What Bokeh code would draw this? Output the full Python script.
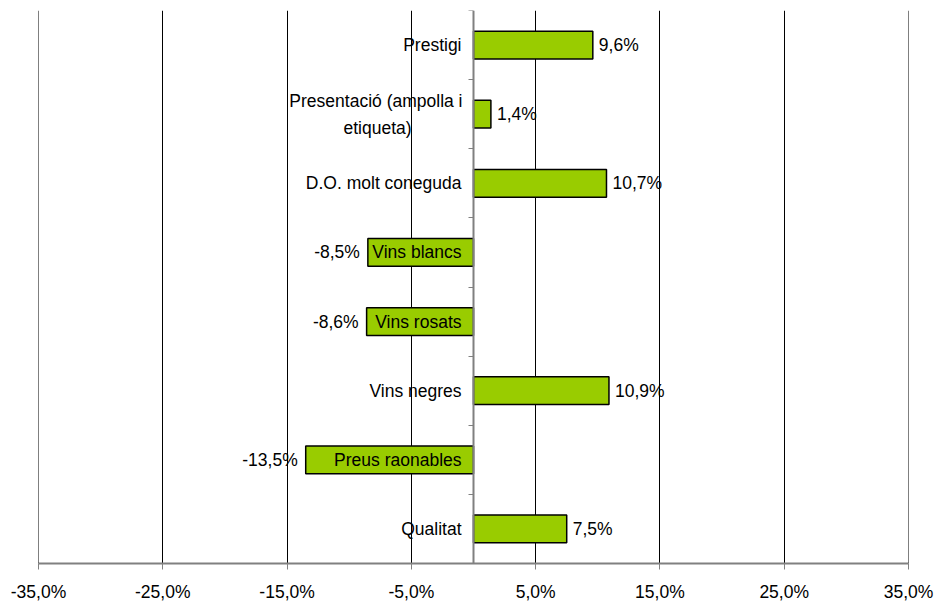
from bokeh.plotting import figure
from bokeh.models import (ColumnDataSource, Range1d, FixedTicker, LinearAxis, Span)
from bokeh.core.properties import value
from bokeh.embed import file_html
from bokeh.resources import INLINE

# Data: change in share (%) by attribute, top to bottom
categories = [
    "Prestigi",
    "Presentació (ampolla i\netiqueta)",
    "D.O. molt coneguda",
    "Vins blancs",
    "Vins rosats",
    "Vins negres",
    "Preus raonables",
    "Qualitat",
]
values = [9.6, 1.4, 10.7, -8.5, -8.6, 10.9, -13.5, 7.5]
x_ticks = [-35, -25, -15, -5, 5, 15, 25, 35]

FONT = "Liberation Sans"
FS = "17.5px"
n = len(categories)

# y position of each band centre, first category on top
ys = [n - i - 0.5 for i in range(n)]

p = figure(width=941, height=604, output_backend="svg", toolbar_location=None,
           x_range=Range1d(-35, 35), y_range=Range1d(0, n),
           min_border_left=38, min_border_right=33, min_border_top=10,
           min_border_bottom=38)
p.outline_line_color = None
p.background_fill_color = "white"
p.border_fill_color = "white"

# bottom value axis
xa = p.xaxis[0]
xa.ticker = FixedTicker(ticks=x_ticks)
xa.major_label_overrides = {t: f"{t:.1f}".replace(".", ",") + "%" for t in x_ticks}
xa.major_label_text_font = FONT
xa.major_label_text_font_size = FS
xa.major_label_text_color = "black"
xa.major_label_standoff = 12
xa.axis_line_color = "#808080"
xa.axis_line_width = 2
xa.major_tick_line_color = "#808080"
xa.major_tick_in = 0
xa.major_tick_out = 6
xa.minor_tick_line_color = None

p.yaxis.visible = False
p.ygrid.visible = False
p.xgrid.ticker = FixedTicker(ticks=x_ticks)
p.xgrid.grid_line_color = "black"
p.xgrid.grid_line_width = 1

# outermost grid lines fall on the frame edges; draw them explicitly
for t in (x_ticks[0], x_ticks[-1]):
    p.add_layout(Span(location=t, dimension="height", line_color="black", line_width=1))

# category axis sitting on zero, ticks at band boundaries
cat_axis = LinearAxis(fixed_location=0, ticker=FixedTicker(ticks=list(range(n + 1))),
                      axis_line_color="#808080", axis_line_width=2,
                      major_tick_line_color="#808080", major_tick_in=0, major_tick_out=5,
                      minor_tick_line_color=None, major_label_text_alpha=0,
                      major_label_text_font_size="1px")
p.add_layout(cat_axis, "left")

# bars
src = ColumnDataSource(dict(y=ys, v=values))
p.hbar(y="y", left=0, right="v", height=0.4, source=src,
       fill_color="#99CC00", line_color="black", line_width=1.5)

# value labels at the outer end of each bar
lbl = [f"{v:.1f}".replace(".", ",") + "%" for v in values]
pos = [i for i, v in enumerate(values) if v >= 0]
neg = [i for i, v in enumerate(values) if v < 0]
p.text(x=[values[i] for i in pos], y=[ys[i] for i in pos], text=[lbl[i] for i in pos],
       x_offset=6, text_align="left", text_baseline="middle",
       text_font=value(FONT), text_font_size=FS, text_color="black")
p.text(x=[values[i] for i in neg], y=[ys[i] for i in neg], text=[lbl[i] for i in neg],
       x_offset=-8, text_align="right", text_baseline="middle",
       text_font=value(FONT), text_font_size=FS, text_color="black")

# category labels next to the zero axis
single = [i for i, c in enumerate(categories) if "\n" not in c]
p.text(x=[0] * len(single), y=[ys[i] for i in single], text=[categories[i] for i in single],
       x_offset=-12, text_align="right", text_baseline="middle",
       text_font=value(FONT), text_font_size=FS, text_color="black")
for i, c in enumerate(categories):
    if "\n" in c:
        first, second = c.split("\n")
        p.text(x=[0], y=[ys[i]], text=[first], x_offset=-11, y_offset=-13.5,
               text_align="right", text_baseline="middle",
               text_font=value(FONT), text_font_size=FS, text_color="black")
        p.text(x=[0], y=[ys[i]], text=[second], x_offset=-96, y_offset=13.5,
               text_align="center", text_baseline="middle",
               text_font=value(FONT), text_font_size=FS, text_color="black")

open("out.html", "w").write(file_html(p, INLINE))
